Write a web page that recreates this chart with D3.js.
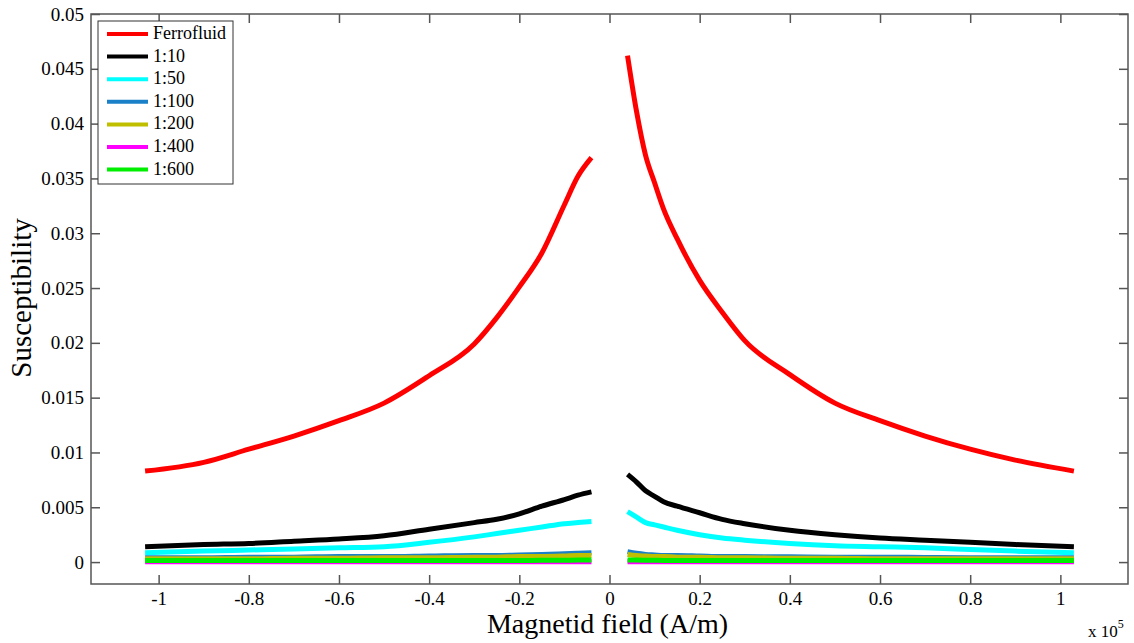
<!DOCTYPE html>
<html>
<head>
<meta charset="utf-8">
<script src="https://cdn.jsdelivr.net/npm/d3@7"></script>
<style>
  html, body { margin: 0; padding: 0; background: #fff; }
  svg text { font-family: "Liberation Serif", "Times New Roman", serif !important; }
</style>
</head>
<body>
<svg id="chart" width="1134" height="643" font-family="Liberation Serif, serif"></svg>
<script>
// ---- Data (x in units of 1e5 A/m) ----
const xLeft  = [-1.03, -0.9, -0.8, -0.7, -0.6, -0.5, -0.4, -0.3, -0.25, -0.2, -0.15, -0.1, -0.07, -0.04];
const xRight = [0.04, 0.06, 0.08, 0.1, 0.12, 0.15, 0.2, 0.25, 0.3, 0.4, 0.5, 0.6, 0.7, 0.8, 0.9, 1.03];

const seriesNames  = ["Ferrofluid", "1:10", "1:50", "1:100", "1:200", "1:400", "1:600"];
const seriesColors = ["#ff0000", "#000000", "#00ffff", "#1a80c8", "#bfbf00", "#ff00ff", "#00ee00"];

const ferroLeft  = [0.0083, 0.0091, 0.0103, 0.0115, 0.0129, 0.0145, 0.0170, 0.0199, 0.0223, 0.0251, 0.0282, 0.0326, 0.0352, 0.0369];
const ferroRight = [0.0462, 0.0411, 0.0371, 0.0346, 0.0322, 0.0295, 0.0257, 0.0228, 0.0202, 0.0171, 0.0145, 0.0129, 0.0115, 0.0103, 0.0093, 0.0083];

const r10Left  = [0.0014, 0.0016, 0.0017, 0.0019, 0.0021, 0.0024, 0.0030, 0.0036, 0.0039, 0.0044, 0.0051, 0.0057, 0.0061, 0.0064];
const r10Right = [0.0080, 0.0073, 0.0065, 0.0060, 0.0055, 0.0051, 0.0045, 0.0039, 0.0035, 0.0029, 0.0025, 0.0022, 0.0020, 0.0018, 0.0016, 0.0014];

const r50Left  = [0.00085, 0.0010, 0.0011, 0.0012, 0.0013, 0.0014, 0.0018, 0.0023, 0.0026, 0.0029, 0.0032, 0.0035, 0.0036, 0.0037];
const r50Right = [0.0046, 0.0041, 0.0036, 0.0034, 0.0032, 0.0029, 0.0025, 0.0022, 0.0020, 0.0017, 0.0015, 0.0014, 0.0013, 0.00115, 0.0010, 0.00085];

const r100Left  = [0.0004, 0.0004, 0.00045, 0.00045, 0.0005, 0.0005, 0.00055, 0.0006, 0.0006, 0.00065, 0.0007, 0.00075, 0.0008, 0.00085];
const r100Right = [0.00095, 0.0008, 0.0007, 0.00065, 0.0006, 0.0006, 0.00055, 0.0005, 0.0005, 0.00048, 0.00045, 0.00045, 0.00042, 0.0004, 0.0004, 0.0004];

const r200Left  = [0.0003, 0.0003, 0.0003, 0.00035, 0.00035, 0.0004, 0.0004, 0.00045, 0.00045, 0.0005, 0.0005, 0.00055, 0.0006, 0.0006];
const r200Right = [0.0007, 0.0006, 0.00055, 0.0005, 0.0005, 0.00045, 0.00045, 0.0004, 0.0004, 0.00035, 0.00035, 0.0003, 0.0003, 0.0003, 0.0003, 0.0003];

const r400Left  = [0.00002, 0.00002, 0.00002, 0.00002, 0.00002, 0.00002, 0.00002, 0.00002, 0.00002, 0.00002, 0.00002, 0.00002, 0.00002, 0.00002];
const r400Right = [0.00002, 0.00002, 0.00002, 0.00002, 0.00002, 0.00002, 0.00002, 0.00002, 0.00002, 0.00002, 0.00002, 0.00002, 0.00002, 0.00002, 0.00002, 0.00002];

const r600Left  = [0.00015, 0.00015, 0.00015, 0.00015, 0.00015, 0.00015, 0.00015, 0.00015, 0.00015, 0.00015, 0.00016, 0.00017, 0.00018, 0.0002];
const r600Right = [0.0002, 0.00018, 0.00017, 0.00016, 0.00015, 0.00015, 0.00015, 0.00015, 0.00015, 0.00015, 0.00015, 0.00015, 0.00015, 0.00015, 0.00015, 0.00015];

const leftValues  = [ferroLeft, r10Left, r50Left, r100Left, r200Left, r400Left, r600Left];
const rightValues = [ferroRight, r10Right, r50Right, r100Right, r200Right, r400Right, r600Right];

const xTicks = [-1, -0.8, -0.6, -0.4, -0.2, 0, 0.2, 0.4, 0.6, 0.8, 1];
const yTicks = [0, 0.005, 0.01, 0.015, 0.02, 0.025, 0.03, 0.035, 0.04, 0.045, 0.05];

// ---- Layout ----
const svg = d3.select("#chart");
const pL = 91, pR = 1128, pT = 14, pB = 584;
const x = d3.scaleLinear().domain([-1.15, 1.15]).range([pL, pR]);
const y = d3.scaleLinear().domain([-0.002, 0.05]).range([pB, pT]);

const axisColor = "#555";
const tickLen = 9;
const serif = "Liberation Serif, Times New Roman, serif";

// Plot box
svg.append("rect")
  .attr("x", pL).attr("y", pT)
  .attr("width", pR - pL).attr("height", pB - pT)
  .attr("fill", "#fff").attr("stroke", axisColor).attr("stroke-width", 1.5);

// Axes (MATLAB-style inward ticks)
function styleAxis(g) {
  g.attr("font-family", serif).attr("font-size", 19);
  g.select(".domain").remove();
  g.selectAll(".tick line").attr("stroke", axisColor).attr("stroke-width", 1.5);
  g.selectAll(".tick text").attr("fill", "#000");
}
const fmt = d => String(+d.toFixed(4));

svg.append("g").attr("transform", `translate(0,${pB})`)
  .call(d3.axisBottom(x).tickValues(xTicks).tickFormat(fmt).tickSizeInner(-tickLen).tickSizeOuter(0).tickPadding(8))
  .call(styleAxis);
svg.append("g").attr("transform", `translate(0,${pT})`)
  .call(d3.axisTop(x).tickValues(xTicks).tickFormat("").tickSizeInner(-tickLen).tickSizeOuter(0))
  .call(styleAxis);
svg.append("g").attr("transform", `translate(${pL},0)`)
  .call(d3.axisLeft(y).tickValues(yTicks).tickFormat(fmt).tickSizeInner(-tickLen).tickSizeOuter(0).tickPadding(7))
  .call(styleAxis);
svg.append("g").attr("transform", `translate(${pR},0)`)
  .call(d3.axisRight(y).tickValues(yTicks).tickFormat("").tickSizeInner(-tickLen).tickSizeOuter(0))
  .call(styleAxis);

// Lines
const line = d3.line().x(d => x(d[0])).y(d => y(d[1])).curve(d3.curveMonotoneX);
const gLines = svg.append("g");
seriesNames.forEach((name, i) => {
  const l = xLeft.map((xv, j) => [xv, leftValues[i][j]]);
  const r = xRight.map((xv, j) => [xv, rightValues[i][j]]);
  [l, r].forEach(pts => {
    gLines.append("path")
      .attr("d", line(pts))
      .attr("fill", "none")
      .attr("stroke", seriesColors[i])
      .attr("stroke-width", 5)
      .attr("stroke-linejoin", "round");
  });
});

// Legend
const lg = svg.append("g").attr("font-family", serif);
const lgX = 98, lgY = 21, lgW = 135, lgH = 163;
lg.append("rect").attr("x", lgX).attr("y", lgY).attr("width", lgW).attr("height", lgH)
  .attr("fill", "#fff").attr("stroke", "#333").attr("stroke-width", 1);
seriesNames.forEach((name, i) => {
  const cy = lgY + 13 + i * 22.6;
  lg.append("line").attr("x1", lgX + 9).attr("x2", lgX + 50).attr("y1", cy).attr("y2", cy)
    .attr("stroke", seriesColors[i]).attr("stroke-width", 4);
  lg.append("text").attr("x", lgX + 55).attr("y", cy + 5).text(name)
    .attr("font-size", 18).attr("fill", "#000");
});

// Axis labels
svg.append("text").attr("x", (pL + pR) / 2 - 2).attr("y", 633)
  .attr("text-anchor", "middle").attr("font-size", 28).attr("fill", "#000")
  .text("Magnetid field (A/m)");
svg.append("text").attr("transform", "translate(31,298) rotate(-90)")
  .attr("text-anchor", "middle").attr("font-size", 29).attr("fill", "#000")
  .text("Susceptibility");

// Exponent label
const ex = svg.append("text").attr("x", 1088).attr("y", 637).attr("font-size", 17).attr("fill", "#000");
ex.append("tspan").text("x 10");
ex.append("tspan").attr("dy", -9).attr("font-size", 12).text("5");
</script>
</body>
</html>
